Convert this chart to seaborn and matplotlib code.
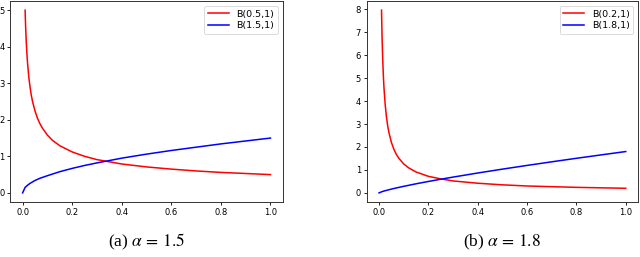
import pandas as pd
import seaborn as sns
import matplotlib.pyplot as plt

# values
# panel (a): alpha = 1.5
a_red_x = [0.010, 0.012, 0.015, 0.018, 0.020, 0.025, 0.030, 0.035, 0.040, 0.050,
           0.060, 0.070, 0.080, 0.100, 0.120, 0.150, 0.200, 0.250, 0.300, 0.400,
           0.500, 0.600, 0.700, 0.800, 0.900, 1.000]
a_red_y = [5.00, 4.56, 4.08, 3.73, 3.54, 3.16, 2.89, 2.67, 2.50, 2.24,
           2.04, 1.89, 1.77, 1.58, 1.44, 1.29, 1.12, 1.00, 0.91, 0.79,
           0.71, 0.65, 0.60, 0.56, 0.53, 0.50]
a_blue_x = [0.0, 0.01, 0.02, 0.03, 0.05, 0.07, 0.10, 0.15, 0.20, 0.25,
            0.30, 0.40, 0.50, 0.60, 0.70, 0.80, 0.90, 1.00]
a_blue_y = [0.0, 0.15, 0.21, 0.26, 0.34, 0.40, 0.47, 0.58, 0.67, 0.75,
            0.82, 0.95, 1.06, 1.16, 1.25, 1.34, 1.42, 1.50]

# panel (b): alpha = 1.8
b_red_x = a_red_x
b_red_y = [7.96, 6.88, 5.76, 4.98, 4.57, 3.83, 3.31, 2.92, 2.63, 2.20,
           1.90, 1.68, 1.51, 1.26, 1.09, 0.91, 0.72, 0.61, 0.52, 0.42,
           0.35, 0.30, 0.27, 0.24, 0.22, 0.20]
b_blue_x = a_blue_x
b_blue_y = [0.0, 0.045, 0.079, 0.109, 0.164, 0.214, 0.285, 0.395, 0.497, 0.594,
            0.687, 0.865, 1.034, 1.196, 1.353, 1.506, 1.654, 1.80]

labels_a = ['B(0.5,1)', 'B(1.5,1)']
labels_b = ['B(0.2,1)', 'B(1.8,1)']
captions = [r'(a) $\alpha\,=\,1.5$', r'(b) $\alpha\,=\,1.8$']


def make_df(rx, ry, bx, by, labels):
    d1 = pd.DataFrame({'x': rx, 'y': ry, 'curve': labels[0]})
    d2 = pd.DataFrame({'x': bx, 'y': by, 'curve': labels[1]})
    return pd.concat([d1, d2], ignore_index=True)


panels = [
    make_df(a_red_x, a_red_y, a_blue_x, a_blue_y, labels_a),
    make_df(b_red_x, b_red_y, b_blue_x, b_blue_y, labels_b),
]
labelsets = [labels_a, labels_b]

plt.rcParams['mathtext.fontset'] = 'stix'

fig = plt.figure(figsize=(6.4, 2.57), dpi=100)
ax_pos = [[0.016, 0.214, 0.426, 0.782],
          [0.573, 0.214, 0.424, 0.782]]

for i, df in enumerate(panels):
    ax = fig.add_axes(ax_pos[i])
    sns.lineplot(data=df, x='x', y='y', hue='curve', sort=False,
                 palette={labelsets[i][0]: 'red', labelsets[i][1]: 'blue'},
                 linewidth=1.1, ax=ax, estimator=None)
    ax.set_xlabel('')
    ax.set_ylabel('')
    ax.set_xticks([0.0, 0.2, 0.4, 0.6, 0.8, 1.0])
    ax.tick_params(labelsize=6, length=2.2, width=0.6, pad=2)
    for s in ax.spines.values():
        s.set_linewidth(0.7)
        s.set_color('#333333')
    leg = ax.legend(loc='upper right', fontsize=6.8, handlelength=2.2,
                    borderpad=0.4, labelspacing=0.3)
    leg.get_frame().set_linewidth(0.6)
    cx = ax_pos[i][0] + ax_pos[i][2] / 2
    fig.text(cx, 0.058, captions[i], ha='center', va='center',
             fontsize=12.5, family='Liberation Serif')

fig.savefig('out.png', dpi=100)
